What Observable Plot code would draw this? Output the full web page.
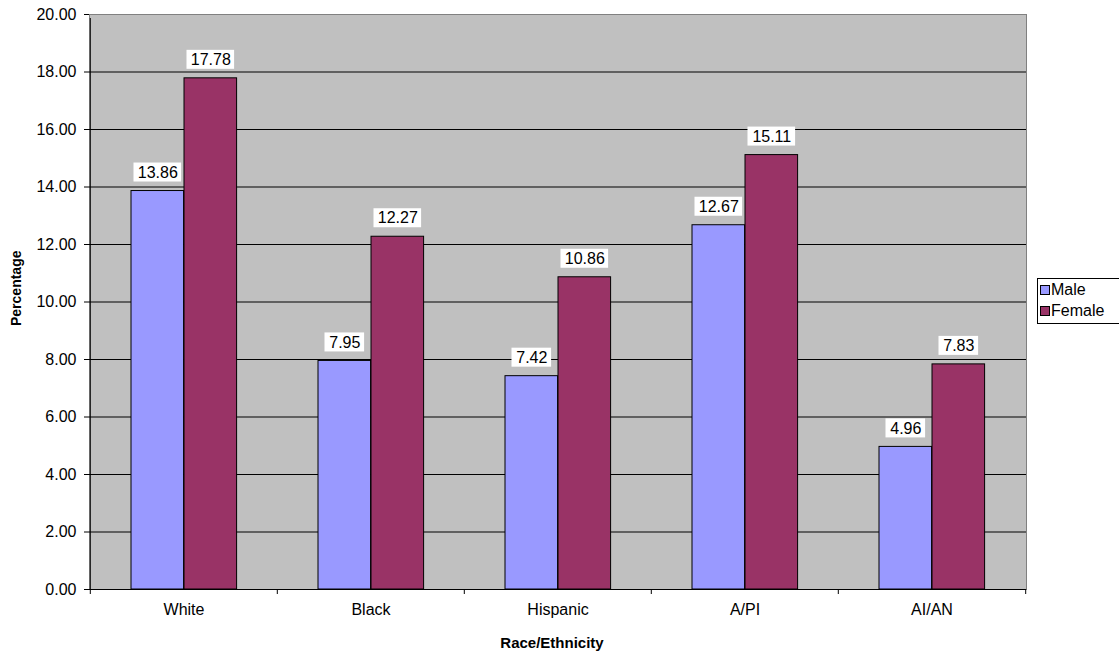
<!DOCTYPE html>
<html>
<head>
<meta charset="utf-8">
<script src="https://cdn.jsdelivr.net/npm/d3@7"></script>
<script src="https://cdn.jsdelivr.net/npm/@observablehq/plot@0.6"></script>
<style>
  html, body { margin: 0; padding: 0; background: #fff; }
  #wrap { position: relative; width: 1119px; height: 652px; overflow: hidden; }
  #legend { position: absolute; left: 1037px; top: 278px; width: 90px; height: 46px;
    border: 1px solid #000; background: #fff; box-sizing: border-box;
    font-family: "Liberation Sans", Arial, sans-serif; font-size: 16px; color: #000; }
  #legend .item { position: absolute; left: 2px; height: 18px; line-height: 18px; white-space: nowrap; }
  #legend .sw { display: inline-block; width: 8px; height: 8px; border: 1px solid #000; margin-right: 1px; vertical-align: 0px; }
</style>
</head>
<body>
<div id="wrap">
  <div id="chart"></div>
  <div id="legend"></div>
</div>
<script>
const categories = ["White", "Black", "Hispanic", "A/PI", "AI/AN"];
const series = ["Male", "Female"];
const maleValues = [13.86, 7.95, 7.42, 12.67, 4.96];
const femaleValues = [17.78, 12.27, 10.86, 15.11, 7.83];
const yTicks = [0, 2, 4, 6, 8, 10, 12, 14, 16, 18, 20];
const colors = { Male: "#9999FF", Female: "#993366" };

const data = [];
categories.forEach((c, i) => {
  data.push({ race: c, sex: "Male", value: maleValues[i] });
  data.push({ race: c, sex: "Female", value: femaleValues[i] });
});
data.forEach(d => d.label = d3.format(".2f")(d.value));

const W = 1119, H = 652, mL = 89, mR = 93, mT = 14, mB = 63;
const bw = (W - mL - mR) / categories.length;
const barW = 53, offL = 41;
const centerOf = s => s === "Male" ? offL + barW / 2 : offL + barW * 1.5;
const font = "Liberation Sans, Arial, sans-serif";

function barMark(s) {
  return Plot.barY(data.filter(d => d.sex === s), {
    x: "race", y: "value", fill: colors[s], stroke: "#000", strokeWidth: 1,
    insetLeft: s === "Male" ? offL : offL + barW,
    insetRight: s === "Male" ? bw - offL - barW : bw - offL - 2 * barW
  });
}
function boxMark(s, len, w) {
  const c = centerOf(s);
  return Plot.barY(data.filter(d => d.sex === s && d.label.length === len), {
    x: "race", y1: "value", y2: "value", fill: "#fff",
    insetLeft: c - w / 2, insetRight: bw - c - w / 2,
    insetTop: -28, insetBottom: 9
  });
}
function labelMark(s) {
  return Plot.text(data.filter(d => d.sex === s), {
    x: "race", y: "value", text: "label", dx: centerOf(s) - bw / 2, dy: -18.5,
    fontSize: 16, fill: "#000"
  });
}

const chart = Plot.plot({
  width: W, height: H,
  marginLeft: mL, marginRight: mR, marginTop: mT, marginBottom: mB,
  style: { fontFamily: font, background: "#fff", overflow: "visible" },
  x: { domain: categories, padding: 0, axis: null },
  y: { domain: [0, 20], axis: null },
  marks: [
    Plot.frame({ fill: "#C0C0C0", stroke: "#808080" }),
    Plot.ruleY(yTicks.slice(1, -1), { stroke: "#000", strokeWidth: 1 }),
    barMark("Male"),
    barMark("Female"),
    ...series.flatMap(s => [boxMark(s, 5, 48), boxMark(s, 4, 40)]),
    ...series.map(labelMark),
    Plot.ruleY([0], { stroke: "#000" }),
    Plot.ruleX([categories[0]], { stroke: "#000", dx: -bw / 2, y1: 0, y2: 20, insetBottom: -4 }),
    Plot.ruleX(categories, { stroke: "#000", dx: -bw / 2, y1: 0, y2: 0, insetBottom: -5 }),
    Plot.ruleX([categories[categories.length - 1]], { stroke: "#000", dx: bw / 2, y1: 0, y2: 0, insetBottom: -5 }),
    Plot.axisX({ tickSize: 0, tickPadding: 14, fontSize: 16, label: null, fill: "#000" }),
    Plot.axisY(yTicks, { tickSize: 5, tickPadding: 8, fontSize: 16, tickFormat: d3.format(".2f"), label: null, fill: "#000", stroke: "#000" }),
    Plot.text(["Race/Ethnicity"], { frameAnchor: "bottom", dy: 58, dx: -6, fontSize: 15, fontWeight: "bold", fill: "#000" }),
    Plot.text(["Percentage"], { frameAnchor: "left", dx: -73, dy: 24, rotate: -90, fontSize: 14, fontWeight: "bold", fill: "#000" })
  ]
});
document.getElementById("chart").appendChild(chart);

const legend = document.getElementById("legend");
series.forEach((s, i) => {
  const it = document.createElement("div");
  it.className = "item";
  it.style.top = (2 + i * 21) + "px";
  it.innerHTML = `<span class="sw" style="background:${colors[s]}"></span>${s}`;
  legend.appendChild(it);
});
</script>
</body>
</html>
